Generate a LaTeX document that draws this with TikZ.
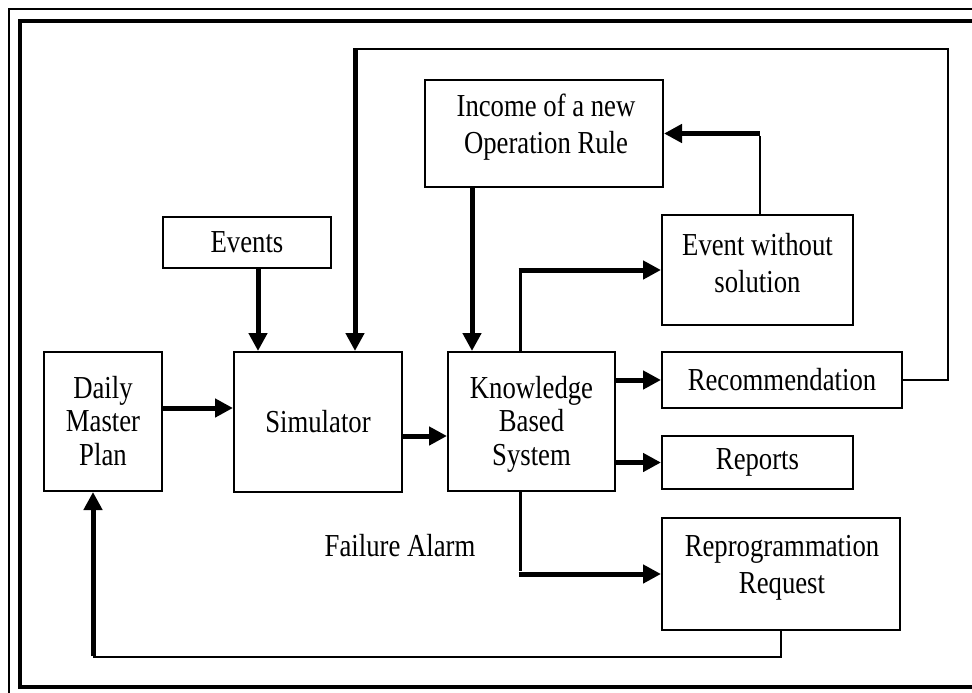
\documentclass[tikz,border=0pt]{standalone}
\usepackage{fontspec}
\setmainfont{Liberation Serif}[FakeStretch=0.835]
\usetikzlibrary{arrows.meta}
\newcommand\diagfont{\fontsize{24pt}{25.1pt}\selectfont}
\newcommand\widefont{\fontsize{24pt}{27.6pt}\selectfont}
\tikzset{
  box/.style={draw, line width=1.5pt, inner sep=0pt, align=center, font=\diagfont},
  txt/.style={inner sep=0pt, align=center, anchor=base, font=\diagfont},
  thinline/.style={line width=1.5pt},
  midline/.style={line width=2.25pt},
  flow/.style={line width=3.75pt, -{Triangle[length=13.5pt,width=13.5pt]}}
}
\begin{document}
\begin{tikzpicture}[x=0.75pt,y=-0.75pt]
\useasboundingbox (0,0) rectangle (972,693);
% page frame
\draw[line width=1.1pt] (990,9) -- (9,9) -- (9,700);
\draw[line width=3pt] (990,21) -- (20,21) -- (20,687) -- (990,687);

% boxes
\node[box, minimum width=168*0.75pt, minimum height=51*0.75pt] (evt) at (247,242.5) {Events};
\node[box, minimum width=118*0.75pt, minimum height=139*0.75pt] (dmp) at (103,421.5) {};
\node[box, minimum width=168*0.75pt, minimum height=140*0.75pt] (sim) at (318,422) {Simulator};
\node[box, minimum width=167*0.75pt, minimum height=139*0.75pt] (kbs) at (531.5,421.5) {};
\node[box, minimum width=238*0.75pt, minimum height=107*0.75pt] (inc) at (544,133.5) {};
\node[box, minimum width=191*0.75pt, minimum height=110*0.75pt] (ews) at (757.5,270) {};
\node[box, minimum width=240*0.75pt, minimum height=56*0.75pt] (rec) at (782,380) {Recommendation};
\node[box, minimum width=191*0.75pt, minimum height=53*0.75pt] (rep) at (757.5,462.5) {Reports};
\node[box, minimum width=238*0.75pt, minimum height=112*0.75pt] (rpr) at (781,574) {};

% multi-line box texts, placed by the baseline of their last line
\node[txt] (dmptxt) at (103,465) {Daily\\Master\\Plan};
\node[txt] (kbstxt) at (531.5,465) {Knowledge\\Based\\System};
\node[txt, font=\widefont] (inctxt) at (546,153) {Income of a new\\Operation Rule};
\node[txt, font=\widefont] (ewstxt) at (757.5,292) {Event without\\solution};
\node[txt, font=\widefont] (rprtxt) at (782,593) {Reprogrammation\\Request};
\node[txt] (fail) at (400,556) {Failure Alarm};

% connector guide positions
\coordinate (xe) at (258,0);
\coordinate (xl) at (355,0);
\coordinate (xi) at (472,0);
\coordinate (xk) at (520,0);
\coordinate (xw) at (760,0);
\coordinate (xd) at (93,0);
\coordinate (xo) at (948,0);
\coordinate (yt) at (0,49);
\coordinate (yb) at (0,657);
\coordinate (ya) at (0,408);
\coordinate (ys) at (0,436);

% events -> simulator
\draw[flow] (evt.south -| xe) -- (sim.north -| xe);
% recommendation loop back into the simulator
\draw[thinline] (rec.east) -| (xo |- yt) -- (xl |- yt);
\draw[flow] ([yshift=0.75pt]xl |- yt) -- (sim.north -| xl);
% event without solution -> new operation rule
\draw[thinline] (ews.north -| xw) -- ([yshift=-1.9pt]xw |- inc.east);
\draw[flow] (xw |- inc.east) -- (inc.east);
% new operation rule -> knowledge based system
\draw[flow] (inc.south -| xi) -- (kbs.north -| xi);
% knowledge based system -> event without solution
\draw[midline] (kbs.north -| xk) -- ([yshift=-1.9pt]xk |- ews.west);
\draw[flow] ([xshift=-1.1pt]xk |- ews.west) -- (ews.west);
% main chain
\draw[flow] (dmp.east |- ya) -- (sim.west |- ya);
\draw[flow] (sim.east |- ys) -- (kbs.west |- ys);
% knowledge based system outputs
\draw[flow] (kbs.east |- rec.west) -- (rec.west);
\draw[flow] (kbs.east |- rep.west) -- (rep.west);
\draw[midline] (kbs.south -| xk) -- ([yshift=1.9pt]xk |- rpr.west);
\draw[flow] ([xshift=-1.1pt]xk |- rpr.west) -- (rpr.west);
% reprogrammation loop back to the master plan
\draw[thinline] (rpr.south) |- (xd |- yb);
\draw[flow] ([yshift=0.75pt]xd |- yb) -- (dmp.south -| xd);
\end{tikzpicture}
\end{document}
